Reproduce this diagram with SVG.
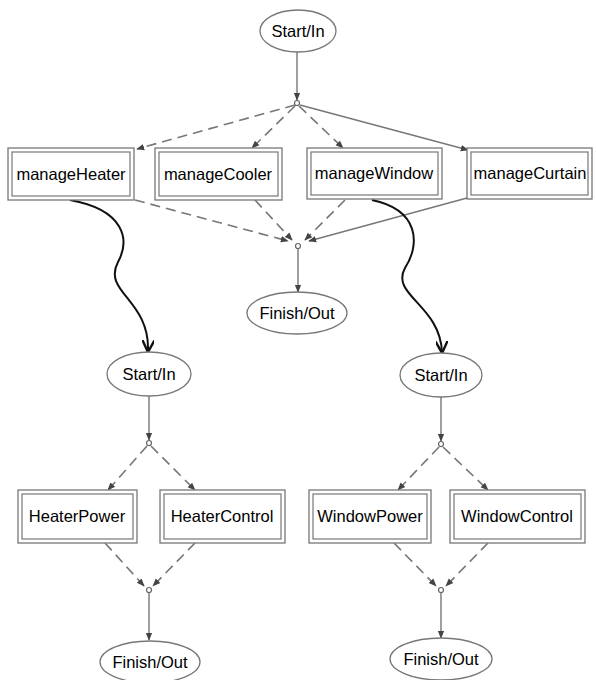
<svg xmlns="http://www.w3.org/2000/svg" width="596" height="680" viewBox="0 0 596 680">
<defs>
<marker id="ah" viewBox="0 0 10 10" refX="9" refY="5" markerWidth="8" markerHeight="8" orient="auto" markerUnits="userSpaceOnUse">
<path d="M0,1 L10,5 L0,9 z" fill="#444"/>
</marker>
<marker id="ahb" viewBox="0 0 10 10" refX="9" refY="5" markerWidth="12" markerHeight="12" orient="auto" markerUnits="userSpaceOnUse">
<path d="M0,0 L10,5 L0,10" fill="none" stroke="#111" stroke-width="2"/>
</marker>
</defs>
<style>
.ell{fill:#fff;stroke:#777;stroke-width:1.3}
.bo{fill:#fff;stroke:#777;stroke-width:1.3}
.bi{fill:none;stroke:#777;stroke-width:1.2}
.t{font-family:"Liberation Sans",Arial,sans-serif;font-size:16.5px;fill:#000;text-anchor:middle}
.s{stroke:#777;stroke-width:1.4;fill:none}
.d{stroke:#777;stroke-width:1.6;fill:none;stroke-dasharray:10 6}
.c{stroke:#111;stroke-width:2;fill:none}
.j{fill:#fff;stroke:#666;stroke-width:1.2}
</style>
<g id="connectors">
<line class="s" x1="297" y1="52" x2="297" y2="100" marker-end="url(#ah)"/>
<line class="d" x1="295" y1="105" x2="137" y2="149" marker-end="url(#ah)"/>
<line class="d" x1="295" y1="106" x2="252" y2="148" marker-end="url(#ah)"/>
<line class="d" x1="299" y1="106" x2="343" y2="148" marker-end="url(#ah)"/>
<line class="s" x1="300" y1="105" x2="468" y2="150" marker-end="url(#ah)"/>
<line class="d" x1="135" y1="200" x2="288" y2="241" marker-end="url(#ah)"/>
<line class="d" x1="255" y1="200" x2="292" y2="240" marker-end="url(#ah)"/>
<line class="d" x1="345" y1="200" x2="305" y2="240" marker-end="url(#ah)"/>
<line class="s" x1="467" y1="198" x2="309" y2="241" marker-end="url(#ah)"/>
<line class="s" x1="298" y1="249" x2="298" y2="292" marker-end="url(#ah)"/>
<path class="c" d="M70,200 C125,210 130,240 118,262 C102,292 150,300 148,351" marker-end="url(#ahb)"/>
<path class="c" d="M372,200 C420,210 420,245 405,268 C390,295 440,305 442,352" marker-end="url(#ahb)"/>
<line class="s" x1="149" y1="396" x2="149" y2="440" marker-end="url(#ah)"/>
<line class="d" x1="147" y1="446" x2="108" y2="490" marker-end="url(#ah)"/>
<line class="d" x1="151" y1="446" x2="195" y2="490" marker-end="url(#ah)"/>
<line class="d" x1="105" y1="543" x2="144" y2="586" marker-end="url(#ah)"/>
<line class="d" x1="195" y1="543" x2="153" y2="586" marker-end="url(#ah)"/>
<line class="s" x1="149" y1="593" x2="149" y2="640" marker-end="url(#ah)"/>
<line class="s" x1="441" y1="397" x2="441" y2="441" marker-end="url(#ah)"/>
<line class="d" x1="439" y1="447" x2="398" y2="490" marker-end="url(#ah)"/>
<line class="d" x1="443" y1="447" x2="488" y2="490" marker-end="url(#ah)"/>
<line class="d" x1="394" y1="543" x2="436" y2="586" marker-end="url(#ah)"/>
<line class="d" x1="488" y1="543" x2="446" y2="586" marker-end="url(#ah)"/>
<line class="s" x1="441" y1="593" x2="441" y2="638" marker-end="url(#ah)"/>
</g>
<g id="junctions">
<circle class="j" cx="297" cy="103" r="2.5"/>
<circle class="j" cx="298" cy="246" r="2.5"/>
<circle class="j" cx="149" cy="443" r="2.5"/>
<circle class="j" cx="149" cy="590" r="2.5"/>
<circle class="j" cx="441" cy="444" r="2.5"/>
<circle class="j" cx="441" cy="590" r="2.5"/>
</g>
<g id="start_top"><ellipse class="ell" cx="298" cy="31" rx="38" ry="21"/><text class="t" x="298" y="37">Start/In</text></g>
<g id="manageHeater"><rect class="bo" x="8" y="148" width="126" height="52"/><rect class="bi" x="12" y="152" width="118" height="44"/><text class="t" x="71" y="180">manageHeater</text></g>
<g id="manageCooler"><rect class="bo" x="155" y="148" width="127" height="52"/><rect class="bi" x="159" y="152" width="119" height="44"/><text class="t" x="218" y="180">manageCooler</text></g>
<g id="manageWindow"><rect class="bo" x="307" y="148" width="135" height="51"/><rect class="bi" x="311" y="152" width="127" height="43"/><text class="t" x="374" y="179">manageWindow</text></g>
<g id="manageCurtain"><rect class="bo" x="467" y="148" width="125" height="51"/><rect class="bi" x="471" y="152" width="117" height="43"/><text class="t" x="530" y="179">manageCurtain</text></g>
<g id="finish_top"><ellipse class="ell" cx="297" cy="313" rx="50" ry="21"/><text class="t" x="297" y="319">Finish/Out</text></g>
<g id="start_heater"><ellipse class="ell" cx="149" cy="374" rx="42" ry="22"/><text class="t" x="149" y="380">Start/In</text></g>
<g id="HeaterPower"><rect class="bo" x="18" y="490" width="119" height="53"/><rect class="bi" x="22" y="494" width="111" height="45"/><text class="t" x="77" y="522">HeaterPower</text></g>
<g id="HeaterControl"><rect class="bo" x="160" y="490" width="125" height="53"/><rect class="bi" x="164" y="494" width="117" height="45"/><text class="t" x="222" y="522">HeaterControl</text></g>
<g id="finish_heater"><ellipse class="ell" cx="150" cy="662" rx="50" ry="21"/><text class="t" x="150" y="668">Finish/Out</text></g>
<g id="start_window"><ellipse class="ell" cx="441" cy="375" rx="41" ry="22"/><text class="t" x="441" y="381">Start/In</text></g>
<g id="WindowPower"><rect class="bo" x="309" y="490" width="122" height="53"/><rect class="bi" x="313" y="494" width="114" height="45"/><text class="t" x="370" y="522">WindowPower</text></g>
<g id="WindowControl"><rect class="bo" x="450" y="490" width="135" height="53"/><rect class="bi" x="454" y="494" width="127" height="45"/><text class="t" x="517" y="522">WindowControl</text></g>
<g id="finish_window"><ellipse class="ell" cx="441" cy="659" rx="51" ry="21"/><text class="t" x="441" y="665">Finish/Out</text></g>
</svg>
